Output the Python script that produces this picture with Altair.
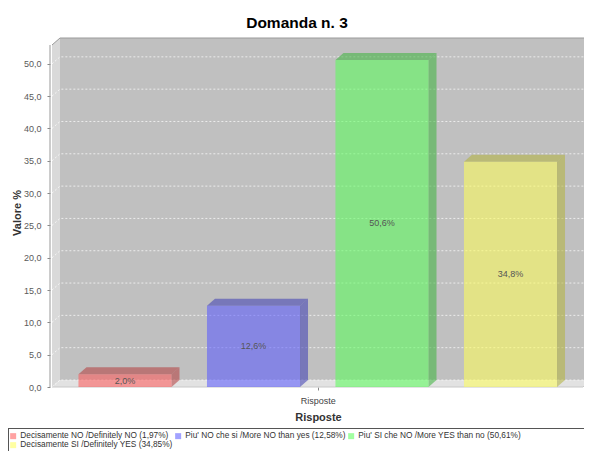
import altair as alt
import pandas as pd

# ---- data ----
categories = [
    "Decisamente NO /Definitely  NO",
    "Piu' NO che si /More NO than yes",
    "Piu' SI che NO /More YES than no",
    "Decisamente SI /Definitely YES",
]
values = [1.97, 12.58, 50.61, 34.848]
colors = ["#FF5555", "#5555FF", "#55FF55", "#FFFF55"]
dark_colors = ["#B23B3B", "#3B3BB2", "#3BB23B", "#B2B23B"]
y_ticks = [0, 5, 10, 15, 20, 25, 30, 35, 40, 45, 50]

def it_num(v, d):
    return f"{v:.{d}f}".replace(".", ",")

legend_labels = [f"{c} ({it_num(v, 2)}%)" for c, v in zip(categories, values)]
bar_labels = [f"{it_num(v, 1)}%" for v in values]

# ---- geometry (style) ----
W, H = 532, 349
PX_PER_U = 128.5
U_MIN = -0.568
U_DOM_MAX = U_MIN + W / PX_PER_U
DX = 8 / PX_PER_U
U_BACK_RIGHT = 3.626
FRONT_RIGHT = U_BACK_RIGHT - DX
Y_MAX = 54.0
DY = 7 * Y_MAX / H
HALF = 0.362
BAR_OPACITY = 0.55

xs = alt.Scale(domain=[U_MIN, U_DOM_MAX], nice=False, zero=False)
ys = alt.Scale(domain=[0, Y_MAX], nice=False, zero=False)

AX_X = alt.Axis(
    values=[1.5], labelExpr="'Risposte'", title="Risposte",
    domain=False, grid=False, tickSize=3, tickColor="#888",
    labelPadding=6, labelFontSize=9, labelColor="#444",
    labelFont="Liberation Sans", titleFont="Liberation Sans",
    titleFontSize=11, titleFontWeight="bold", titleColor="#333",
    titlePadding=6,
)
AX_Y = alt.Axis(
    values=y_ticks,
    labelExpr="replace(format(datum.value, '.1f'), '.', ',')",
    title="Valore %", domain=False, grid=False, offset=2,
    tickSize=3, tickColor="#888", labelPadding=6,
    labelFontSize=9, labelColor="#5A5A5A", labelFont="Liberation Sans",
    titleFont="Liberation Sans", titleFontSize=11,
    titleFontWeight="bold", titleColor="#333", titlePadding=1,
)

def X(field="x"):
    return alt.X(f"{field}:Q", scale=xs, axis=AX_X)

def Y(field="y"):
    return alt.Y(f"{field}:Q", scale=ys, axis=AX_Y)

# left wall
left_wall = alt.Chart(pd.DataFrame({
    "x": [U_MIN, U_MIN + DX], "y": [0, DY], "y2": [Y_MAX - DY, Y_MAX]
})).mark_area(color="#D9D9D9").encode(x=X(), y=Y(), y2="y2:Q")

# back wall
back_wall = alt.Chart(pd.DataFrame({
    "x": [U_MIN + DX], "x2": [U_BACK_RIGHT], "y": [DY], "y2": [Y_MAX]
})).mark_rect(color="#C0C0C0").encode(x=X(), x2="x2:Q", y=Y(), y2="y2:Q")

# floor
floor = alt.Chart(pd.DataFrame({
    "x": [U_MIN, U_MIN + DX, FRONT_RIGHT, U_BACK_RIGHT],
    "y": [0, 0, 0, DY], "y2": [0, DY, DY, DY]
})).mark_area(color="#E2E2E2").encode(x=X(), y=Y(), y2="y2:Q")

# gridlines (on left wall and back wall)
g_rows = []
for v in y_ticks:
    g_rows += [
        {"g": v, "o": 0, "x": U_MIN, "y": v},
        {"g": v, "o": 1, "x": U_MIN + DX, "y": v + DY},
        {"g": v, "o": 2, "x": U_BACK_RIGHT, "y": v + DY},
    ]
grid = alt.Chart(pd.DataFrame(g_rows)).mark_line(
    color="#FFFFFF", strokeWidth=1, strokeDash=[2, 2], opacity=0.7
).encode(x=X(), y=Y(), detail="g:N", order="o:Q")

# outline of walls
outline = alt.Chart(pd.DataFrame({
    "o": [0, 1, 2], "x": [U_MIN, U_MIN + DX, U_BACK_RIGHT], "y": [Y_MAX - DY, Y_MAX, Y_MAX]
})).mark_line(color="#9A9A9A", strokeWidth=1).encode(x=X(), y=Y(), order="o:Q")

floor_edge = alt.Chart(pd.DataFrame({
    "o": [0, 1, 2], "x": [U_MIN, FRONT_RIGHT, U_BACK_RIGHT], "y": [0, 0, DY]
})).mark_line(color="#C8C8C8", strokeWidth=1).encode(x=X(), y=Y(), order="o:Q")

# bars
front_df = pd.DataFrame({
    "x": [i - HALF for i in range(4)],
    "x2": [i + HALF for i in range(4)],
    "y": [0.0] * 4,
    "y2": values,
    "cat": legend_labels,
})
side_rows, top_rows = [], []
for i, v in enumerate(values):
    r = i + HALF
    l = i - HALF
    side_rows += [
        {"b": i, "x": r, "y": 0, "y2": v, "c": dark_colors[i]},
        {"b": i, "x": r + DX, "y": DY, "y2": v + DY, "c": dark_colors[i]},
    ]
    top_rows += [
        {"b": i, "x": l, "y": v, "y2": v, "c": dark_colors[i]},
        {"b": i, "x": l + DX, "y": v, "y2": v + DY, "c": dark_colors[i]},
        {"b": i, "x": r, "y": v, "y2": v + DY, "c": dark_colors[i]},
        {"b": i, "x": r + DX, "y": v + DY, "y2": v + DY, "c": dark_colors[i]},
    ]

side = alt.Chart(pd.DataFrame(side_rows)).mark_area(opacity=BAR_OPACITY).encode(
    x=X(), y=Y(), y2="y2:Q", detail="b:N", color=alt.Color("c:N", scale=None)
)
top = alt.Chart(pd.DataFrame(top_rows)).mark_area(opacity=BAR_OPACITY).encode(
    x=X(), y=Y(), y2="y2:Q", detail="b:N", color=alt.Color("c:N", scale=None)
)

front = alt.Chart(front_df).mark_rect(opacity=BAR_OPACITY).encode(
    x=X(), x2="x2:Q", y=Y(), y2="y2:Q",
    color=alt.Color("cat:N", scale=alt.Scale(domain=legend_labels, range=colors),
                    sort=None,
                    legend=alt.Legend(
                        title=None, orient="none", legendX=-44, legendY=393,
                        direction="horizontal", columns=3, gridAlign="none",
                        symbolType="square",
                        symbolSize=36, symbolOpacity=1, symbolStrokeWidth=0,
                        labelFont="Liberation Sans", labelFontSize=8.3,
                        labelColor="#333", labelOffset=3, labelLimit=400,
                        columnPadding=1, rowPadding=0, padding=1,
                    )),
)

# legend frame (top and left edges, the rest runs off the picture)
frame_top = alt.Chart(pd.DataFrame({"k": [0]})).mark_rule(color="#555", strokeWidth=1).encode(
    x=alt.value(-44), x2=alt.value(W), y=alt.value(390.5)
)
frame_left = alt.Chart(pd.DataFrame({"k": [0]})).mark_rule(color="#555", strokeWidth=1).encode(
    x=alt.value(-43.5), y=alt.value(390.5), y2=alt.value(H + 64)
)

y_axis_line = alt.Chart(pd.DataFrame({"x": [U_MIN], "y": [0], "y2": [Y_MAX - DY]})).mark_rule(
    color="#999", xOffset=-2
).encode(x=X(), y=Y(), y2="y2:Q")

labels_df = pd.DataFrame({"x": list(range(4)), "y": [v / 2 for v in values], "t": bar_labels})
labels = alt.Chart(labels_df).mark_text(
    font="Liberation Sans", fontSize=9, color="#555", baseline="middle"
).encode(x=X(), y=Y(), text="t:N")

chart = alt.layer(
    left_wall, back_wall, floor, grid, outline, floor_edge, y_axis_line,
    side, top, front, labels, frame_top, frame_left
).properties(
    width=W, height=H,
    title=alt.TitleParams("Domanda n. 3", font="Liberation Sans", fontSize=15.5,
                          fontWeight="bold", color="#000", anchor="middle",
                          dx=-21, offset=5),
    autosize=alt.AutoSizeParams(type="none"),
    padding={"left": 44, "top": 30, "right": 0, "bottom": 64},
).configure_view(stroke=None)

chart.save("out.html", embed_options={"renderer": "svg", "actions": False})
